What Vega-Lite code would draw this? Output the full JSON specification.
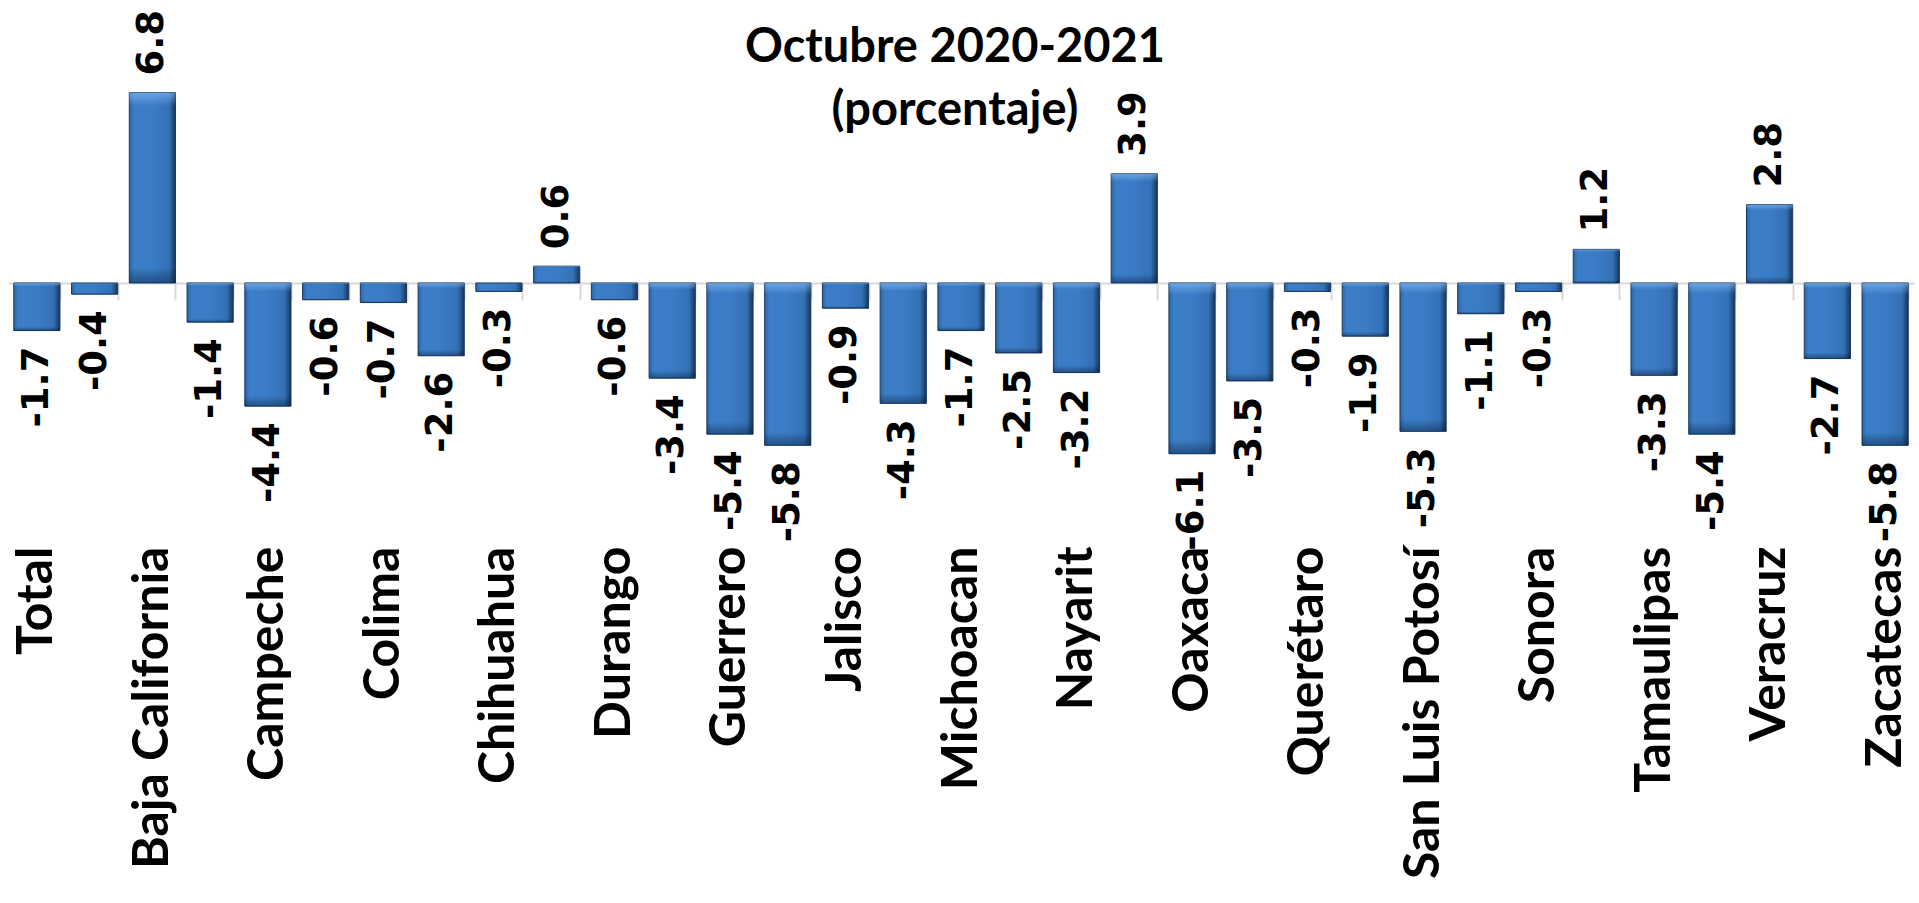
{
  "$schema": "https://vega.github.io/schema/vega-lite/v6.json",
  "autosize": "none",
  "width": 1906,
  "height": 530,
  "padding": {"left": 8, "top": 10, "right": 5, "bottom": 363},
  "background": "white",
  "config": {"view": {"stroke": null}},
  "title": {
    "text": ["Octubre 2020-2021", "(porcentaje)"],
    "font": "Lato",
    "fontWeight": "bold",
    "fontSize": 47,
    "color": "black",
    "anchor": "middle",
    "frame": "group",
    "orient": "top",
    "baseline": "top",
    "offset": 0,
    "dx": -6,
    "dy": 125,
    "lineHeight": 63
  },
  "data": {
    "values": [
      {"estado": "Total", "valor": -1.7},
      {"estado": "Aguascalientes", "valor": -0.4},
      {"estado": "Baja California", "valor": 6.8},
      {"estado": "Baja California Sur", "valor": -1.4},
      {"estado": "Campeche", "valor": -4.4},
      {"estado": "Coahuila", "valor": -0.6},
      {"estado": "Colima", "valor": -0.7},
      {"estado": "Chiapas", "valor": -2.6},
      {"estado": "Chihuahua", "valor": -0.3},
      {"estado": "Ciudad de México", "valor": 0.6},
      {"estado": "Durango", "valor": -0.6},
      {"estado": "Guanajuato", "valor": -3.4},
      {"estado": "Guerrero", "valor": -5.4},
      {"estado": "Hidalgo", "valor": -5.8},
      {"estado": "Jalisco", "valor": -0.9},
      {"estado": "México", "valor": -4.3},
      {"estado": "Michoacan", "valor": -1.7},
      {"estado": "Morelos", "valor": -2.5},
      {"estado": "Nayarit", "valor": -3.2},
      {"estado": "Nuevo León", "valor": 3.9},
      {"estado": "Oaxaca", "valor": -6.1},
      {"estado": "Puebla", "valor": -3.5},
      {"estado": "Querétaro", "valor": -0.3},
      {"estado": "Quintana Roo", "valor": -1.9},
      {"estado": "San Luis Potosí", "valor": -5.3},
      {"estado": "Sinaloa", "valor": -1.1},
      {"estado": "Sonora", "valor": -0.3},
      {"estado": "Tabasco", "valor": 1.2},
      {"estado": "Tamaulipas", "valor": -3.3},
      {"estado": "Tlaxcala", "valor": -5.4},
      {"estado": "Veracruz", "valor": 2.8},
      {"estado": "Yucatán", "valor": -2.7},
      {"estado": "Zacatecas", "valor": -5.8}
    ]
  },
  "encoding": {
    "x": {
      "field": "estado",
      "type": "nominal",
      "sort": null,
      "scale": {"paddingInner": 0.2, "paddingOuter": 0.1},
      "axis": {
        "title": null,
        "orient": "bottom",
        "offset": -257,
        "domainColor": "#d9d9d9",
        "domainWidth": 2,
        "tickColor": "#d9d9d9",
        "tickWidth": 2,
        "tickSize": 17,
        "tickBand": "extent",
        "labelAngle": -90,
        "labelAlign": "right",
        "labelBaseline": "middle",
        "labelPadding": 246,
        "labelFont": "Lato",
        "labelFontWeight": "bold",
        "labelFontSize": 50,
        "labelColor": "black",
        "labelOverlap": false,
        "labelLimit": 1000,
        "labelExpr": "indexof(['Aguascalientes','Baja California Sur','Coahuila','Chiapas','Ciudad de México','Guanajuato','Hidalgo','México','Morelos','Nuevo León','Puebla','Quintana Roo','Sinaloa','Tabasco','Tlaxcala','Yucatán'], datum.value) >= 0 ? '' : datum.label"
      }
    },
    "y": {
      "field": "valor",
      "type": "quantitative",
      "scale": {"domain": [-9.18, 9.75], "nice": false, "zero": false},
      "axis": null
    }
  },
  "layer": [
    {
      "mark": {
        "type": "bar",
        "fill": {
          "gradient": "linear",
          "x1": 0, "y1": 0, "x2": 1, "y2": 0,
          "stops": [
            {"offset": 0, "color": "#2c66a8"},
            {"offset": 0.1, "color": "#3b7dc6"},
            {"offset": 0.5, "color": "#3a7cc6"},
            {"offset": 0.86, "color": "#3470b5"},
            {"offset": 1, "color": "#15365a"}
          ]
        },
        "stroke": "#1a3a60",
        "strokeWidth": 1
      }
    },
    {
      "mark": {
        "type": "bar",
        "fill": {
          "gradient": "linear",
          "x1": 0, "y1": 0, "x2": 0, "y2": 1,
          "stops": [
            {"offset": 0, "color": "rgba(150,200,255,0.55)"},
            {"offset": 0.07, "color": "rgba(150,200,255,0.0)"},
            {"offset": 0.92, "color": "rgba(0,0,0,0.0)"},
            {"offset": 1, "color": "rgba(0,20,50,0.4)"}
          ]
        },
        "strokeWidth": 0
      }
    },
    {
      "transform": [{"filter": "datum.valor >= 0"}],
      "mark": {
        "type": "text",
        "angle": 270,
        "align": "left",
        "baseline": "middle",
        "dx": 17,
        "font": "DejaVu Sans",
        "fontWeight": "bold",
        "fontSize": 37,
        "color": "black"
      },
      "encoding": {"text": {"field": "valor", "type": "nominal"}}
    },
    {
      "transform": [{"filter": "datum.valor < 0"}],
      "mark": {
        "type": "text",
        "angle": 270,
        "align": "right",
        "baseline": "middle",
        "dx": -16,
        "font": "DejaVu Sans",
        "fontWeight": "bold",
        "fontSize": 37,
        "color": "black"
      },
      "encoding": {"text": {"field": "valor", "type": "nominal"}}
    }
  ]
}
